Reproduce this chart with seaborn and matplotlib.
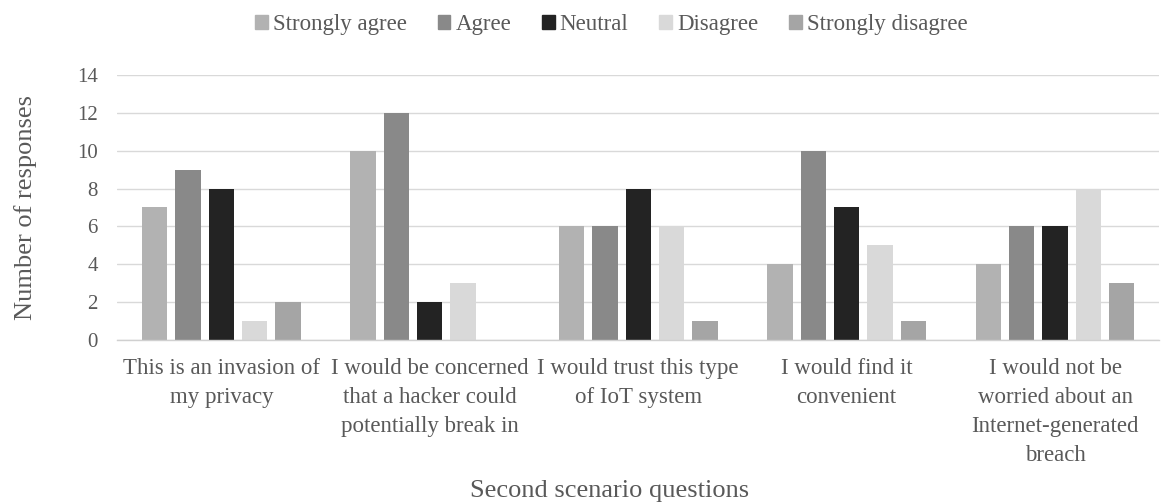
import matplotlib
matplotlib.use("Agg")
import matplotlib.pyplot as plt
import seaborn as sns
import pandas as pd

questions = [
    "This is an invasion of\nmy privacy",
    "I would be concerned\nthat a hacker could\npotentially break in",
    "I would trust this type\nof IoT system",
    "I would find it\nconvenient",
    "I would not be\nworried about an\nInternet-generated\nbreach",
]
responses = ["Strongly agree", "Agree", "Neutral", "Disagree", "Strongly disagree"]

strongly_agree = [7, 10, 6, 4, 4]
agree = [9, 12, 6, 10, 6]
neutral = [8, 2, 8, 7, 6]
disagree = [1, 3, 6, 5, 8]
strongly_disagree = [2, 0, 1, 1, 3]

colors = ["#b2b2b2", "#898989", "#232323", "#d9d9d9", "#a5a5a5"]
text_color = "#595959"

series = [strongly_agree, agree, neutral, disagree, strongly_disagree]
rows = []
for resp, vals in zip(responses, series):
    for q, v in zip(questions, vals):
        rows.append({"question": q, "response": resp, "count": v})
df = pd.DataFrame(rows)

sns.set_theme(style="white")
plt.rcParams["font.family"] = ["Liberation Serif", "DejaVu Serif"]

fig = plt.figure(figsize=(11.71, 5.03), dpi=100)
ax = fig.add_axes([0.1, 0.324, 0.89, 0.527])

sns.barplot(
    data=df, x="question", y="count", hue="response",
    order=questions, hue_order=responses, palette=colors,
    width=0.8, gap=0.24, saturation=1, edgecolor="none",
    errorbar=None, ax=ax,
)

ax.set_ylim(0, 14)
ax.set_yticks(range(0, 15, 2))
ax.set_xlim(-0.5, len(questions) - 0.5)
ax.yaxis.grid(True, color="#d9d9d9", linewidth=1)
ax.set_axisbelow(True)
for side in ["top", "right", "left"]:
    ax.spines[side].set_visible(False)
ax.spines["bottom"].set_color("#d0d0d0")
ax.spines["bottom"].set_linewidth(1)

ax.tick_params(axis="y", length=0, pad=14, labelsize=15, labelcolor=text_color)
ax.tick_params(axis="x", length=0, pad=13, labelsize=16.5, labelcolor=text_color)
for lbl in ax.get_xticklabels():
    lbl.set_linespacing(1.5)

ax.set_ylabel("Number of responses", fontsize=19, color=text_color)
ax.yaxis.set_label_coords(-0.077, 0.5)
ax.set_xlabel("Second scenario questions", fontsize=19, color=text_color)
ax.xaxis.label.set_va("baseline")
ax.xaxis.set_label_coords(0.473, -0.592)

ax.legend_.remove()
handles = [plt.Rectangle((0, 0), 1, 1, color=c) for c in colors]
fig.legend(
    handles, responses, loc="center", bbox_to_anchor=(0.522, 0.951), ncol=5,
    frameon=False, fontsize=16.5, handlelength=0.55, handleheight=0.55,
    handletextpad=0.22, columnspacing=1.35, labelcolor=text_color,
)

fig.savefig("out.png", dpi=100)
